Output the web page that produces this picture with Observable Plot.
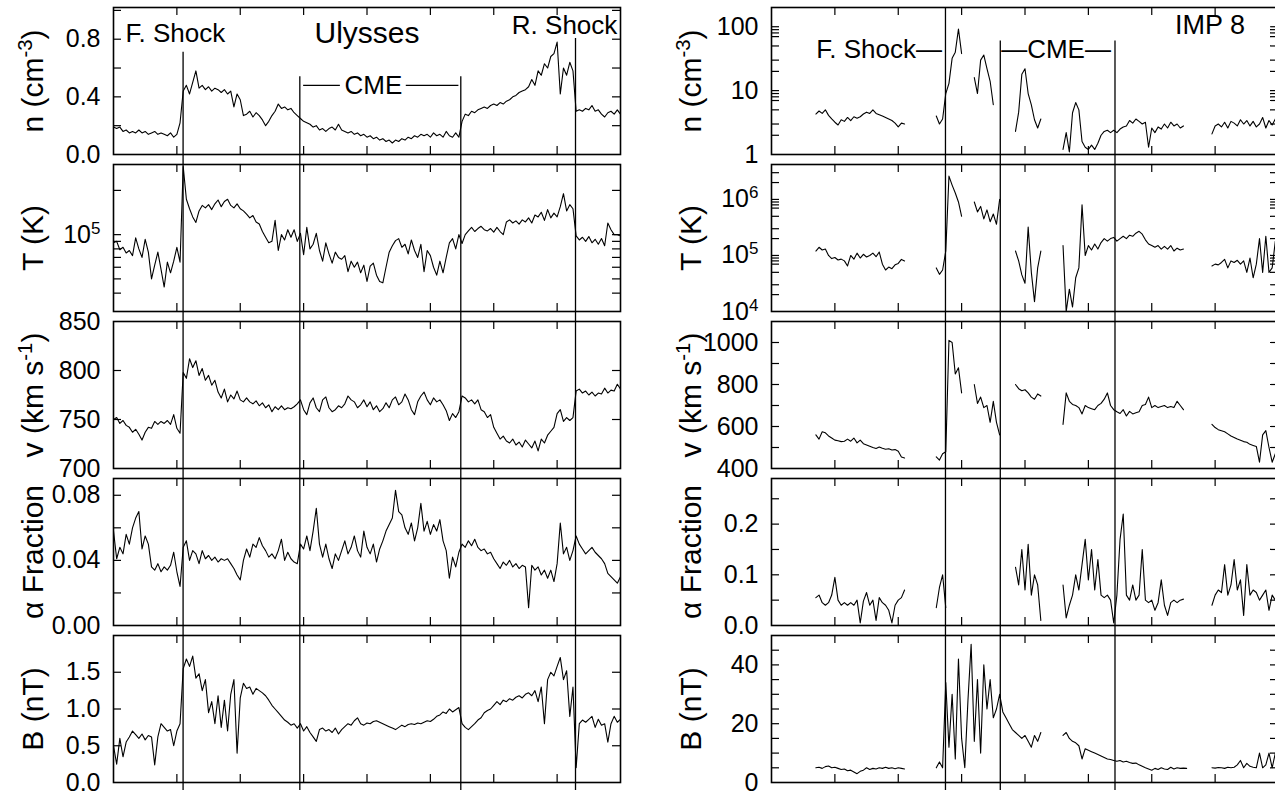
<!DOCTYPE html>
<html><head><meta charset="utf-8">
<script src="https://cdn.jsdelivr.net/npm/d3@7"></script>
<script src="https://cdn.jsdelivr.net/npm/@observablehq/plot@0.6"></script>
<style>
html,body{margin:0;padding:0;background:#fff;}
#chart{position:relative;width:1275px;height:794px;overflow:hidden;background:#fff;}
#chart svg{position:absolute;}
</style></head><body><div id="chart"></div>
<script>
const _ = null;
const STEP = 0.05;              // sampling step of the series (days)
const dayTicks = [1,2,3,4,5,6,7];

// event times (days)
const ulyssesEvents = [1.098, 2.94, 5.48, 7.29];   // F. Shock, CME start, CME end, R. Shock
const impEvents = [2.745, 3.61, 5.42];              // F. Shock, CME start, CME end

// ---------------- Ulysses ----------------
const ulyN = [0.19,0.18,0.19,0.16,0.17,0.15,0.16,0.15,0.17,0.15,0.16,0.14,0.15,0.16,0.14,0.15,0.14,0.13,0.15,0.12,0.14,0.22,
0.44,0.48,0.42,0.50,0.58,0.46,0.48,0.45,0.47,0.44,0.46,0.45,0.43,0.45,0.42,0.44,0.33,0.42,0.38,0.27,0.28,0.30,0.26,0.29,0.27,0.24,0.20,0.23,0.27,0.30,0.35,0.32,0.33,0.31,0.32,0.29,0.27,
0.25,0.23,0.22,0.21,0.19,0.20,0.17,0.18,0.16,0.18,0.19,0.17,0.21,0.17,0.16,0.15,0.16,0.14,0.15,0.13,0.14,0.12,0.13,0.11,0.12,0.10,0.11,0.09,0.10,0.08,0.10,0.09,0.11,0.10,0.12,0.11,0.13,0.12,0.14,0.13,0.14,0.12,0.15,0.13,0.14,0.12,0.16,0.13,0.12,0.15,0.12,
0.23,0.28,0.27,0.30,0.29,0.31,0.32,0.33,0.32,0.34,0.35,0.34,0.36,0.35,0.37,0.38,0.40,0.41,0.43,0.44,0.45,0.47,0.52,0.48,0.58,0.55,0.63,0.60,0.68,0.70,0.78,0.42,0.60,0.55,0.64,0.58,
0.30,0.31,0.30,0.32,0.31,0.34,0.30,0.31,0.28,0.26,0.29,0.30,0.28,0.31,0.28];

const ulyT = [8.8e4,9.0e4,7.9e4,8.2e4,7.5e4,7.8e4,7.2e4,9.5e4,8.0e4,7.0e4,9.3e4,7.6e4,5.0e4,6.2e4,7.6e4,5.8e4,4.4e4,6.5e4,5.5e4,6.6e4,8.2e4,6.5e4,
2.9e5,1.74e5,1.5e5,1.32e5,1.21e5,1.45e5,1.58e5,1.52e5,1.6e5,1.48e5,1.62e5,1.72e5,1.55e5,1.68e5,1.74e5,1.58e5,1.52e5,1.62e5,1.5e5,1.45e5,1.38e5,1.3e5,1.35e5,1.22e5,1.18e5,1.05e5,9.6e4,8.8e4,9.0e4,1.25e5,7.8e4,1.0e5,9.2e4,1.08e5,9.6e4,1.08e5,9.0e4,
1.02e5,7.3e4,1.12e5,8.0e4,8.6e4,1.02e5,7.8e4,6.6e4,8.8e4,7.4e4,6.4e4,7.6e4,7.0e4,6.8e4,7.2e4,5.6e4,6.6e4,6.0e4,6.5e4,5.5e4,6.2e4,4.8e4,6.1e4,6.4e4,5.3e4,4.8e4,4.7e4,6.0e4,7.6e4,8.4e4,9.1e4,9.4e4,8.2e4,8.6e4,7.4e4,9.2e4,7.8e4,7.0e4,8.6e4,5.6e4,7.8e4,7.2e4,6.0e4,5.3e4,6.6e4,5.5e4,7.0e4,8.8e4,9.4e4,8.0e4,1.0e5,
8.7e4,1.0e5,1.06e5,1.12e5,1.05e5,1.1e5,1.14e5,1.08e5,1.06e5,1.1e5,1.04e5,1.12e5,1.05e5,1.0e5,1.22e5,1.26e5,1.2e5,1.24e5,1.18e5,1.26e5,1.22e5,1.3e5,1.2e5,1.36e5,1.32e5,1.42e5,1.25e5,1.48e5,1.3e5,1.4e5,1.32e5,1.55e5,1.9e5,1.45e5,1.6e5,1.5e5,
9.8e4,9.2e4,9.6e4,9.0e4,9.7e4,8.8e4,9.3e4,8.6e4,9.4e4,8.4e4,1.2e5,1.08e5,1.0e5,1.0e5,9.8e4];

const ulyV = [750,752,746,749,744,742,737,740,735,729,737,742,741,748,745,748,746,749,745,755,741,736,
798,792,812,803,810,795,802,790,795,785,790,778,772,781,768,775,771,779,770,768,772,768,766,769,764,767,762,765,758,763,760,764,760,762,761,763,766,
770,760,755,767,772,762,758,770,773,762,758,760,764,762,766,774,770,768,762,765,770,763,768,760,764,758,761,767,762,770,773,765,768,776,770,760,755,768,774,778,770,765,772,768,770,765,759,749,756,752,758,
774,772,768,770,766,770,760,758,752,755,742,736,730,733,728,726,730,724,727,722,729,725,721,728,718,730,726,734,738,742,756,760,748,752,749,752,
779,781,777,779,775,778,774,777,776,782,777,780,779,786,781];

const ulyA = [0.058,0.041,0.048,0.044,0.056,0.050,0.060,0.066,0.070,0.047,0.055,0.050,0.036,0.034,0.038,0.033,0.036,0.034,0.037,0.045,0.033,0.024,
0.048,0.052,0.040,0.046,0.044,0.038,0.046,0.041,0.043,0.040,0.042,0.039,0.041,0.040,0.041,0.038,0.035,0.031,0.028,0.040,0.047,0.042,0.050,0.048,0.054,0.049,0.046,0.042,0.044,0.041,0.046,0.053,0.040,0.045,0.041,0.039,0.038,
0.050,0.047,0.055,0.046,0.058,0.072,0.050,0.042,0.050,0.041,0.035,0.044,0.040,0.046,0.052,0.044,0.048,0.055,0.046,0.042,0.058,0.048,0.044,0.050,0.039,0.047,0.052,0.058,0.062,0.066,0.083,0.070,0.068,0.060,0.056,0.063,0.052,0.060,0.075,0.058,0.064,0.056,0.062,0.058,0.065,0.052,0.046,0.029,0.042,0.036,0.045,
0.050,0.048,0.052,0.049,0.053,0.048,0.046,0.047,0.044,0.045,0.041,0.038,0.035,0.039,0.037,0.040,0.036,0.038,0.035,0.037,0.036,0.011,0.037,0.034,0.036,0.031,0.034,0.029,0.034,0.027,0.038,0.063,0.044,0.048,0.040,0.046,
0.055,0.050,0.047,0.044,0.046,0.048,0.045,0.043,0.041,0.038,0.032,0.030,0.028,0.026,0.030];

const ulyB = [0.50,0.25,0.60,0.35,0.55,0.62,0.70,0.65,0.60,0.66,0.58,0.64,0.62,0.24,0.62,0.80,0.75,0.70,0.72,0.50,0.70,0.80,
1.55,1.68,1.58,1.72,1.42,1.48,1.25,1.40,0.95,1.10,0.80,1.18,0.75,1.12,0.70,1.20,1.40,0.40,1.15,1.35,1.28,1.30,1.20,1.28,1.25,1.22,1.18,1.12,1.05,1.00,0.95,0.90,0.85,0.82,0.78,0.80,0.74,
0.80,0.70,0.76,0.68,0.62,0.56,0.72,0.74,0.70,0.72,0.68,0.74,0.66,0.72,0.76,0.80,0.78,0.84,0.88,0.80,0.78,0.81,0.80,0.83,0.84,0.82,0.80,0.78,0.76,0.74,0.72,0.75,0.78,0.76,0.79,0.80,0.79,0.81,0.80,0.82,0.84,0.83,0.86,0.90,0.92,0.96,0.94,1.00,0.96,0.99,1.02,
0.80,0.75,0.72,0.76,0.80,0.85,0.88,0.95,0.98,1.00,1.05,1.10,1.06,1.12,1.10,1.14,1.12,1.16,1.18,1.15,1.20,1.22,1.18,1.25,1.10,1.30,0.80,1.40,1.50,1.45,1.58,1.70,1.40,1.52,0.90,1.30,
0.20,0.80,0.85,0.82,0.86,0.90,0.75,0.86,0.78,0.80,0.55,0.80,0.90,0.82,0.86];

// ---------------- IMP 8 (null = data gap) ----------------
const impN = [_,_,_,_,_,_,_,_,_,_,_,_,_,_,
4.3,4.8,4.4,5.0,4.1,3.6,3.2,2.9,3.5,3.3,3.8,3.4,3.9,3.7,3.9,4.3,4.6,4.4,5.0,4.4,4.2,4.0,3.8,3.6,3.4,3.1,2.7,3.1,3.0,
_,_,_,_,_,_,_,_,_,
4.0,3.0,3.6,9.0,13,32,40,92,38,
_,_,_,
16,9,30,36,22,14,6,
_,_,_,_,_,_,
2.3,4.6,18,22,9,6,3.5,2.6,3.6,
_,_,_,_,_,_,
1.2,2.2,1.1,4.5,6.5,5.0,1.6,1.3,1.2,1.4,1.2,1.5,2.0,2.3,2.4,2.2,2.4,2.2,2.5,2.7,2.8,3.4,3.1,3.6,3.3,3.0,3.2,1.3,2.6,2.2,2.7,2.5,3.0,2.6,3.2,2.8,3.0,2.6,2.8,
_,_,_,_,_,_,_,_,
2.1,2.8,3.0,2.7,3.2,2.6,3.3,3.1,2.8,3.5,3.0,3.4,2.8,3.3,2.7,3.0,3.8,2.6,3.4,2.9,3.6,3.0];

const impT = [_,_,_,_,_,_,_,_,_,_,_,_,_,_,
1.2e5,1.4e5,1.25e5,1.3e5,1.0e5,8.8e4,9.2e4,8.3e4,8.6e4,8.0e4,6.5e4,1.0e5,8.6e4,1.1e5,9.0e4,1.05e5,9.4e4,1.0e5,1.1e5,9.5e4,1.15e5,7.0e4,5.5e4,6.2e4,5.8e4,6.8e4,7.2e4,8.5e4,8.0e4,
_,_,_,_,_,_,_,_,_,
6.0e4,4.6e4,5.5e4,1.2e5,2.6e6,1.8e6,1.3e6,9.0e5,5.0e5,_,_,_,9.0e5,6.0e5,7.5e5,4.5e5,6.5e5,4.0e5,5.5e5,3.6e5,1.0e6,
_,_,_,_,
1.2e5,8.0e4,4.5e4,3.2e4,3.2e5,5.0e4,1.5e4,6.0e4,1.2e5,
_,_,_,_,_,_,
1.5e5,1.0e4,2.5e4,1.2e4,4.0e4,6.0e4,8.0e5,1.0e5,1.5e5,1.25e5,1.6e5,1.3e5,1.7e5,2.0e5,1.8e5,2.0e5,2.1e5,1.8e5,2.0e5,2.2e5,2.0e5,2.3e5,2.2e5,2.5e5,2.7e5,2.4e5,1.9e5,1.6e5,1.5e5,1.4e5,1.5e5,1.3e5,1.45e5,1.3e5,1.5e5,1.2e5,1.35e5,1.25e5,1.3e5,
_,_,_,_,_,_,_,_,
6.5e4,7.0e4,6.8e4,7.5e4,8.5e4,6.0e4,8.0e4,7.5e4,8.2e4,7.0e4,8.0e4,5.0e4,9.0e4,4.0e4,7.0e4,2.0e5,5.0e4,2.2e5,5.0e4,6.0e4,1.8e5,7.0e4];

const impV = [_,_,_,_,_,_,_,_,_,_,_,_,_,_,
560,540,575,570,555,545,535,532,528,530,540,530,545,522,535,518,512,506,500,495,502,496,492,494,488,490,482,455,450,
_,_,_,_,_,_,_,_,_,
455,440,470,480,1010,1000,850,880,760,
_,_,_,
800,710,740,690,700,620,720,620,560,
_,_,_,_,
800,780,770,775,760,740,730,755,745,
_,_,_,_,_,_,
610,760,720,705,700,690,660,700,690,685,680,700,710,730,760,700,680,670,662,680,650,672,660,665,670,700,705,740,690,700,690,695,700,690,695,690,720,700,680,
_,_,_,_,_,_,_,_,
610,595,585,580,575,565,555,548,540,535,528,525,515,510,505,430,560,580,500,430,470,480];

const impA = [_,_,_,_,_,_,_,_,_,_,_,_,_,_,
0.055,0.060,0.045,0.040,0.045,0.060,0.095,0.050,0.040,0.045,0.040,0.045,0.040,0.050,0.005,0.048,0.065,0.040,0.050,0.010,0.055,0.045,0.040,0.030,0.005,0.040,0.050,0.055,0.070,
_,_,_,_,_,_,_,_,_,
0.035,0.075,0.100,0.035,
_,_,_,_,_,_,_,_,_,_,_,_,_,_,_,_,_,_,_,_,_,
0.115,0.080,0.150,0.070,0.160,0.060,0.100,0.080,0.010,
_,_,_,_,_,_,
0.080,0.015,0.040,0.060,0.100,0.070,0.120,0.170,0.090,0.150,0.070,0.130,0.060,0.055,0.060,0.050,0.005,0.060,0.170,0.220,0.060,0.050,0.080,0.050,0.060,0.150,0.050,0.045,0.050,0.030,0.045,0.090,0.040,0.020,0.045,0.050,0.045,0.050,0.052,
_,_,_,_,_,_,_,_,
0.040,0.060,0.070,0.065,0.120,0.060,0.080,0.130,0.070,0.090,0.020,0.120,0.060,0.070,0.065,0.050,0.060,0.070,0.030,0.060,0.050,0.060];

const impB = [_,_,_,_,_,_,_,_,_,_,_,_,_,_,
5.0,5.2,4.8,5.4,5.6,5.0,5.2,4.8,4.4,4.6,4.0,4.2,3.6,3.0,3.8,4.2,5.0,4.4,4.8,4.6,5.0,4.8,5.2,4.8,5.0,4.7,5.0,4.8,4.6,
_,_,_,_,_,_,_,_,_,
5.0,7.0,5.0,34,12,30,8,42,15,5,28,47,14,35,10,40,25,35,22,25,30,24,22,20,18,17,16,15,16,14,12,16,14,17,
_,_,_,_,_,_,
16,17,15,14,13.5,12.5,8,11.5,11,10.5,10,9.5,9,8.5,8,7.8,7.5,7.2,7.5,7.0,7.2,6.8,6.5,6.6,6.0,5.5,5.0,4.6,4.2,4.8,4.4,5.0,4.6,4.4,5.2,4.6,5.0,4.8,4.9,4.8,
_,_,_,_,_,_,_,
5.0,4.9,5.1,5.0,4.8,5.2,5.0,5.2,6.0,7.5,5.0,6.5,5.5,5.2,5.0,10,5.0,6.0,10,5.0,10,6.0];

// axis titles and ticks
const titles = ["n (cm^{-3})", "T (K)", "v (km s^{-1})", "\u03b1 Fraction", "B (nT)"];

const ulyPanels = [
  {data: ulyN, type: "linear", domain: [0, 1.02], ticks: [0.2,0.4,0.6,0.8,1.0], labels: [0, 0.4, 0.8], fmt: d3.format(".1f")},
  {data: ulyT, type: "log", domain: [3e4, 3e5], ticks: [4e4,5e4,6e4,7e4,8e4,9e4,1e5,2e5], labels: [1e5], fmt: d => "10^{" + Math.round(Math.log10(d)) + "}"},
  {data: ulyV, type: "linear", domain: [700, 850], ticks: [750, 800], labels: [700, 750, 800, 850], fmt: d => String(d)},
  {data: ulyA, type: "linear", domain: [0, 0.0903], ticks: [0.02,0.04,0.06,0.08], labels: [0, 0.04, 0.08], fmt: d3.format(".2f")},
  {data: ulyB, type: "linear", domain: [0, 2.0], ticks: [0.5,1.0,1.5], labels: [0, 0.5, 1.0, 1.5], fmt: d3.format(".1f")}
];
const impPanels = [
  {data: impN, type: "log", domain: [1, 200], ticks: [2,3,5,7,8,9,10,20,30,50,70,80,90,100], labels: [1, 10, 100], fmt: d => String(d)},
  {data: impT, type: "log", domain: [1e4, 4.2e6], ticks: [2e4,3e4,5e4,7e4,8e4,9e4,1e5,2e5,3e5,5e5,7e5,8e5,9e5,1e6,2e6,3e6], labels: [1e4,1e5,1e6], fmt: d => "10^{" + Math.round(Math.log10(d)) + "}"},
  {data: impV, type: "linear", domain: [400, 1100], ticks: [500,600,700,800,900,1000], labels: [400,600,800,1000], fmt: d => String(d)},
  {data: impA, type: "linear", domain: [0, 0.29], ticks: [0.05,0.1,0.15,0.2,0.25], labels: [0, 0.1, 0.2], fmt: d3.format(".1f")},
  {data: impB, type: "linear", domain: [0, 50], ticks: [5,10,15,20,25,30,35,40,45], labels: [0, 20, 40], fmt: d => String(d)}
];

// annotation tops in first panels (data units)
const ulyEventTops = [0.71, 0.54, 0.54, 0.805];
const impEventTops = [200, 60, 60];

const FONT = "'Liberation Sans', Arial, Helvetica, sans-serif";
const frameW = 507, frameH = 147;

function supify(svg) {
  d3.select(svg).selectAll("text").each(function () {
    const s = this.textContent;
    if (!s.includes("^{")) return;
    while (this.firstChild) this.removeChild(this.firstChild);
    s.split(/\^\{([^}]*)\}/).forEach((p, i) => {
      if (!p) return;
      const ts = document.createElementNS("http://www.w3.org/2000/svg", "tspan");
      ts.textContent = p;
      if (i % 2 === 1) { ts.setAttribute("baseline-shift", "super"); ts.setAttribute("font-size", "68%"); }
      this.appendChild(ts);
    });
  });
}

function makePanel(p, row, col, events, eventTops, extra) {
  const last = row === 4;
  const mLeft = col === 0 ? 113 : 131;
  const mRight = 640 - mLeft - frameW;
  const mTop = 5, mBottom = last ? 12 : 5;
  const series = p.data.map((v, i) => ({t: i * STEP, v}));
  let eventMarks;
  if (row === 0) {
    const ev = events.map((t, i) => ({t, top: eventTops[i]}));
    eventMarks = [Plot.ruleX(ev, {x: "t", y1: "top", y2: () => p.domain[0], insetBottom: -5, strokeWidth: 1.3})];
  } else {
    eventMarks = [Plot.ruleX(events, {insetTop: -5, insetBottom: last ? -8 : -5, strokeWidth: 1.3})];
  }
  const svg = Plot.plot({
    width: 640, height: mTop + frameH + mBottom,
    marginLeft: mLeft, marginRight: mRight, marginTop: mTop, marginBottom: mBottom,
    x: {domain: [0, 8], axis: null},
    y: {type: p.type, domain: p.domain, axis: null},
    style: {background: "transparent", overflow: "visible", fontFamily: FONT, fontSize: "25px", color: "black"},
    marks: [
      Plot.ruleX(dayTicks, {insetTop: frameH - 8, strokeWidth: 1.2}),
      Plot.ruleX(dayTicks, {insetBottom: frameH - 8, strokeWidth: 1.2}),
      Plot.ruleY(p.ticks, {insetRight: frameW - 8, strokeWidth: 1.2}),
      Plot.ruleY(p.ticks, {insetLeft: frameW - 8, strokeWidth: 1.2}),
      Plot.line(series, {x: "t", y: "v", stroke: "black", strokeWidth: 1.1, clip: true}),
      ...eventMarks,
      Plot.frame({stroke: "black", strokeWidth: 1.6}),
      Plot.text(p.labels, {y: d => d, text: p.fmt, frameAnchor: "left", dx: -13, textAnchor: "end", fontSize: 25, fill: "black"}),
      Plot.text([titles[row]], {text: d => d, frameAnchor: "left", dx: -80, rotate: -90, textAnchor: "middle", fontSize: 30, fill: "black"}),
      ...(extra || [])
    ]
  });
  supify(svg);
  svg.style.left = (col * 640) + "px";
  svg.style.top = (2 + 157 * row) + "px";
  document.getElementById("chart").appendChild(svg);
}

// annotation marks for the first panels
const ulyExtra = [
  Plot.text(["F. Shock"], {x: 0.19, y: 0.84, text: d => d, textAnchor: "start", fontSize: 26, fill: "black"}),
  Plot.text(["Ulysses"], {x: 4.0, y: 0.84, text: d => d, textAnchor: "middle", fontSize: 30, fill: "black"}),
  Plot.text(["R. Shock"], {x: 7.95, y: 0.895, text: d => d, textAnchor: "end", fontSize: 26, fill: "black"}),
  Plot.text(["CME"], {x: 4.1, y: 0.48, text: d => d, textAnchor: "middle", fontSize: 26, fill: "black"}),
  Plot.ruleY([{y: 0.48, a: 3.0, b: 3.58}, {y: 0.48, a: 4.62, b: 5.45}], {y: "y", x1: "a", x2: "b", strokeWidth: 1.3})
];
const impExtra = [
  Plot.text(["F. Shock\u2014"], {x: 2.69, y: 44, text: d => d, textAnchor: "end", fontSize: 26, fill: "black"}),
  Plot.text(["\u2014CME\u2014"], {x: 4.49, y: 44, text: d => d, textAnchor: "middle", fontSize: 26, fill: "black"}),
  Plot.text(["IMP 8"], {x: 6.92, y: 105, text: d => d, textAnchor: "middle", fontSize: 27, fill: "black"})
];

ulyPanels.forEach((p, row) => makePanel(p, row, 0, ulyssesEvents, ulyEventTops, row === 0 ? ulyExtra : null));
impPanels.forEach((p, row) => makePanel(p, row, 1, impEvents, impEventTops, row === 0 ? impExtra : null));
</script>
</body></html>
